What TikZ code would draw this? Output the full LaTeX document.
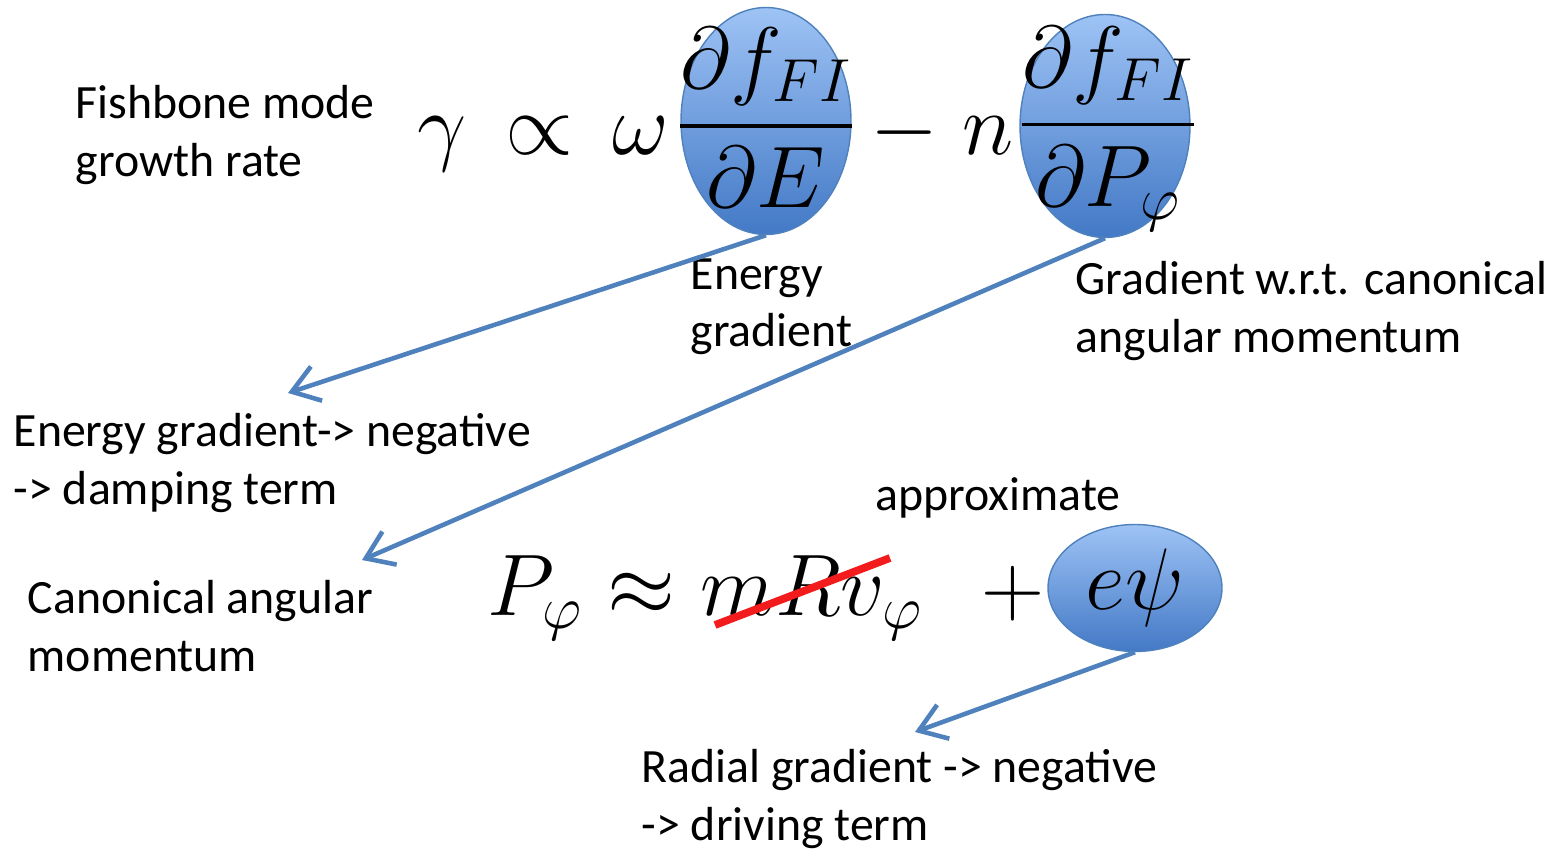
\documentclass[tikz,border=0pt]{standalone}
\usepackage{amsmath, amssymb}
\usepackage{fontspec}
\setmainfont{Carlito}
\usepackage{tikz}
\usetikzlibrary{
arrows.meta,
positioning,
shapes.geometric
}
\definecolor{fbblue}{HTML}{4F81BD}
\definecolor{fbtop}{HTML}{9EC3F5}
\definecolor{fbbot}{HTML}{4379C6}
\definecolor{fbred}{HTML}{F21C1C}

\tikzset{
  bubble/.style={ellipse, draw=fbblue, thin, top color=fbtop,
    bottom color=fbbot, inner sep=0pt},
  note/.style={align=left, inner sep=0pt, anchor=west,
    font=\fontsize{13.6}{16.3}\selectfont},
  eqn/.style={inner sep=0pt, font=\fontsize{26}{30}\selectfont},
  pointer/.style={-{Straight Barb[length=2.6mm,width=3.6mm]},
    fbblue, line width=1.3pt}
}

\begin{document}
\begin{tikzpicture}[x=1cm, y=1cm]
\useasboundingbox (0,0) rectangle (15.5,-8.49);

%% ── GROWTH RATE ─────────────────────────────────────────────────
\node[note] (growth) at (0.75,-1.35) {Fishbone mode\\growth rate};

\node[eqn, anchor=base east] (lhs) at (6.7,-1.55)
  {$\gamma\,\propto\,\omega$};
\node[bubble, minimum width=1.7cm, minimum height=2.27cm] (dE)
  at (7.66,-1.21) {};
\node[eqn, font=\fontsize{25}{30}\selectfont] at (7.66,-1.18)
  {$\dfrac{\partial f_{FI}}{\partial E}$};
\node[eqn, anchor=base] (minus) at (9.42,-1.55) {$-\;n$};
\node[bubble, minimum width=1.7cm, minimum height=2.23cm] (dP)
  at (11.05,-1.26) {};
\node[eqn, font=\fontsize{25}{30}\selectfont] at (11.08,-1.29)
  {$\dfrac{\partial f_{FI}}{\partial P_\varphi}$};

%% ── LABELS UNDER THE BUBBLES ────────────────────────────────────
\node[note] (egrad) at (6.9,-3.07) {Energy\\gradient};
\node[note] (pgrad) at (10.75,-3.11)
  {Gradient w.r.t. canonical\\angular momentum};

%% ── MOMENTUM APPROXIMATION ──────────────────────────────────────
\node[note, anchor=base west] (approx) at (8.75,-5.1) {approximate};
\node[eqn, anchor=base west] (rhs) at (4.87,-6.15)
  {$P_\varphi\approx mRv_\varphi\;\,+{}$};
\draw[fbred, line width=2.2pt] (7.15,-6.25) -- (8.9,-5.58);
\node[bubble, minimum width=1.74cm, minimum height=1.27cm] (epsi)
  at (11.35,-5.88) {};
\node[eqn, font=\fontsize{28}{30}\selectfont] at (epsi.center)
  {$e\psi$};

%% ── LEFT-HAND NOTES ─────────────────────────────────────────────
\node[note] (damp) at (0.13,-4.63)
  {Energy gradient-> negative\\-> damping term};
\node[note] (canon) at (0.27,-6.26) {Canonical angular\\momentum};
\node[note] (drive) at (6.41,-7.99)
  {Radial gradient -> negative\\-> driving term};

%% ── POINTERS ────────────────────────────────────────────────────
\coordinate (tipA) at (2.88,-3.93);
\coordinate (tipB) at (3.62,-5.6);
\coordinate (tipC) at (9.15,-7.32);
\draw[pointer] (dE.south) -- (tipA);
\draw[pointer] (dP.south) -- (tipB);
\draw[pointer] (epsi.south) -- (tipC);

\end{tikzpicture}
\end{document}
